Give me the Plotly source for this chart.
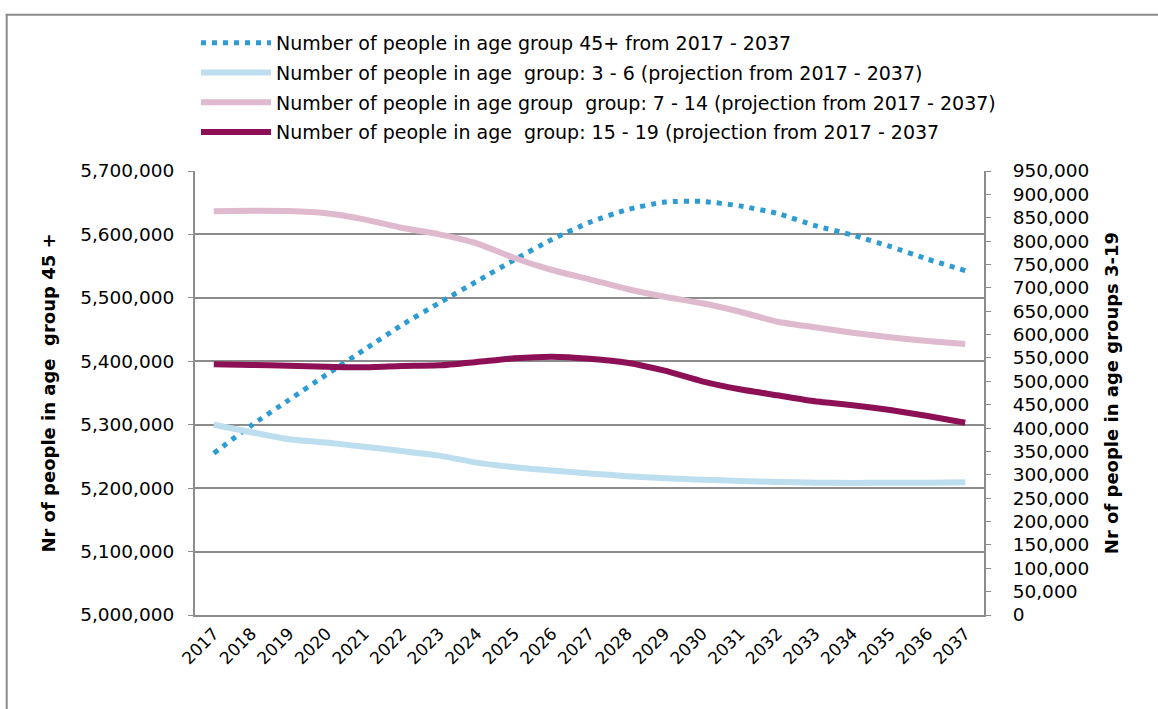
import plotly.graph_objects as go

years = [str(y) for y in range(2017, 2038)]

age_45_plus = [5255000, 5299000, 5339000, 5379000, 5418000, 5457000, 5492000, 5526000,
               5560000, 5592000, 5619000, 5639000, 5651000, 5652000, 5645000, 5633000,
               5614000, 5599000, 5581000, 5561000, 5543000]
age_3_6 = [407000, 391000, 376000, 369000, 360000, 351000, 341000, 326000, 316000, 309000,
           303000, 297000, 292500, 289500, 286700, 284600, 283100, 282500, 283000, 283000, 284000]
age_7_14 = [864000, 865000, 864400, 859500, 846600, 828700, 814500, 795300, 763900, 738200,
            718300, 697500, 681000, 666900, 648900, 627500, 615500, 604000, 594200, 586200, 579800]
age_15_19 = [536400, 534900, 533400, 531300, 529900, 532800, 534200, 541300, 549200, 552700,
             548400, 539800, 522700, 500000, 482900, 470100, 457200, 448700, 438600, 425800, 411500]

names = [
    "Number of people in age group 45+ from 2017 - 2037",
    "Number of people in age  group: 3 - 6 (projection from 2017 - 2037)",
    "Number of people in age group  group: 7 - 14 (projection from 2017 - 2037)",
    "Number of people in age  group: 15 - 19 (projection from 2017 - 2037",
]

left_title = "Nr of people in age  group 45 +"
right_title = "Nr of people in age groups 3-19"

W, H = 1158, 709
L, R, T, B = 195, 174, 171, 94
pw, ph = W - L - R, H - T - B

def px_to_paper_x(px):
    return (px - L) / pw

def px_to_paper_y(py):
    return (H - B - py) / ph

fig = go.Figure()
fig.add_trace(go.Scatter(x=years, y=age_45_plus, name=names[0], mode="lines",
                         line=dict(color="#2f9bd3", width=5, dash="5px,6px", shape="spline", smoothing=0.6),
                         yaxis="y", legendgroup="a"))
fig.add_trace(go.Scatter(x=years, y=age_3_6, name=names[1], mode="lines",
                         line=dict(color="#bcdeef", width=6, shape="spline", smoothing=0.5),
                         yaxis="y2", legendgroup="b"))
fig.add_trace(go.Scatter(x=years, y=age_7_14, name=names[2], mode="lines",
                         line=dict(color="#dfb9cd", width=6, shape="spline", smoothing=0.5),
                         yaxis="y2", legendgroup="c"))
fig.add_trace(go.Scatter(x=years, y=age_15_19, name=names[3], mode="lines",
                         line=dict(color="#8d1056", width=6, shape="spline", smoothing=0.5),
                         yaxis="y2", legendgroup="d"))

font_family = "DejaVu Sans, Verdana, sans-serif"
axis_gray = "#8c8c8c"

fig.update_layout(
    width=W, height=H,
    margin=dict(l=L, r=R, t=T, b=B, autoexpand=False),
    paper_bgcolor="white", plot_bgcolor="white",
    font=dict(family=font_family, size=18, color="#000000"),
    showlegend=True,
    legend=dict(x=px_to_paper_x(196), y=px_to_paper_y(24), xanchor="left", yanchor="top",
                font=dict(size=19, family=font_family), itemwidth=70,
                tracegroupgap=2, traceorder="grouped", bgcolor="rgba(0,0,0,0)"),
    xaxis=dict(type="category", range=[-0.5, 20.5], showgrid=False, showline=True,
               linecolor=axis_gray, linewidth=2, ticks="", tickangle=-45,
               tickfont=dict(size=17)),
    yaxis=dict(range=[5000000, 5700000], dtick=100000, tickformat=",", showgrid=True,
               gridcolor=axis_gray, gridwidth=1.5, showline=True, linecolor=axis_gray,
               linewidth=2, ticks="outside", ticklen=5, tickcolor=axis_gray,
               ticklabelstandoff=10, tickfont=dict(size=18.5), zeroline=False,
               title=dict(text="<b>" + left_title + "</b>", font=dict(size=18), standoff=20)),
    yaxis2=dict(range=[0, 950000], dtick=50000, tickformat=",", overlaying="y", side="right",
                showgrid=False, showline=True, linecolor=axis_gray, linewidth=2,
                ticks="outside", ticklen=5, tickcolor=axis_gray, ticklabelstandoff=18,
                tickfont=dict(size=18.5), zeroline=False,
                title=dict(text="<b>" + right_title + "</b>", font=dict(size=18), standoff=17)),
    shapes=[
        dict(type="line", xref="paper", yref="paper",
             x0=px_to_paper_x(6.7), x1=px_to_paper_x(6.7),
             y0=px_to_paper_y(14.7), y1=px_to_paper_y(H + 2),
             line=dict(color="#8a8a8a", width=2)),
        dict(type="line", xref="paper", yref="paper",
             x0=px_to_paper_x(5.7), x1=px_to_paper_x(W + 2),
             y0=px_to_paper_y(14.7), y1=px_to_paper_y(14.7),
             line=dict(color="#8a8a8a", width=2)),
    ],
)

fig.write_html("out.html", config={"displayModeBar": False},
               post_script="document.body.style.margin='0';document.body.style.overflow='hidden';")
